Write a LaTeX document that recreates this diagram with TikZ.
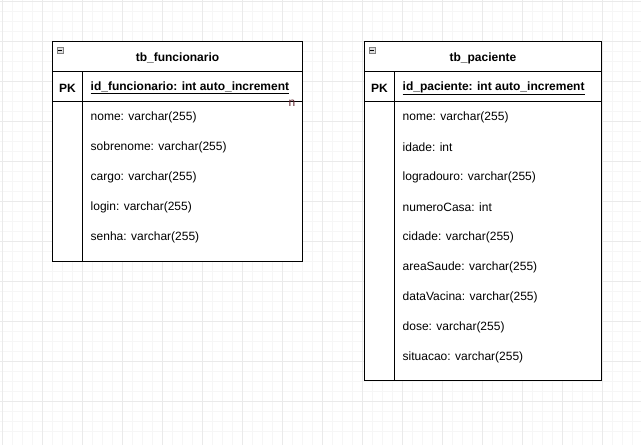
\documentclass[tikz,border=0pt]{standalone}
\usepackage{fontspec}
\setmainfont{Liberation Sans}
\definecolor{minorgrid}{RGB}{246,246,246}
\definecolor{majorgrid}{RGB}{234,234,234}
\definecolor{cardcol}{RGB}{100,40,50}
\begin{document}
\begin{tikzpicture}[x=1pt,y=-1pt,>=latex,
	txt/.style={font=\fontsize{12}{14}\selectfont,inner sep=0pt},
	title/.style={txt,font=\fontsize{12}{14}\selectfont\bfseries},
	field/.style={txt,anchor=west},
	tbline/.style={line width=1pt,black}]
	\useasboundingbox (0,0) rectangle (641,445);
	% background grid
	\foreach \x in {2.5,12.5,...,642} \draw[minorgrid,line width=1pt] (\x,0) -- (\x,445);
	\foreach \y in {1.5,11.5,...,441} \draw[minorgrid,line width=1pt] (0,\y) -- (641,\y);
	\foreach \x in {2.5,42.5,...,642} \draw[majorgrid,line width=1pt] (\x,0) -- (\x,445);
	\foreach \y in {1.5,41.5,...,441} \draw[majorgrid,line width=1pt] (0,\y) -- (641,\y);
	% tb_funcionario
	\draw[tbline,fill=white] (52.5,41.5) rectangle (302.5,261);
	\draw[tbline] (52.5,71.5) -- (302.5,71.5);
	\draw[tbline] (52.5,101.5) -- (302.5,101.5);
	\draw[tbline] (82.5,71.5) -- (82.5,261);
	\draw[gray,fill=gray!25] (57,47) rectangle (63,53);
	\draw[black,line width=0.8pt] (58.3,50) -- (61.7,50);
	\node[title] (funcname) at (177.5,58) {tb\_funcionario};
	\node[title] (funcpk) at (67.5,88) {PK};
	\node[title,anchor=west] (funcid) at (90.5,88) {\underline{id\_funcionario: int auto\_increment}};
	\foreach \f [count=\i] in {nome: varchar(255),sobrenome: varchar(255),cargo: varchar(255),login: varchar(255),senha: varchar(255)}
		\node[field] (func\i) at (90.5,{87.5+30*\i}) {\f};
	\node[txt,text=cardcol] (card) at (292,103) {n};
	% tb_paciente
	\draw[tbline,fill=white] (364.5,41.5) rectangle (601.5,380.5);
	\draw[tbline] (364.5,71.5) -- (601.5,71.5);
	\draw[tbline] (364.5,101.5) -- (601.5,101.5);
	\draw[tbline] (394.5,71.5) -- (394.5,380.5);
	\draw[gray,fill=gray!25] (369,47) rectangle (375,53);
	\draw[black,line width=0.8pt] (370.3,50) -- (373.7,50);
	\node[title] (pacname) at (483,58) {tb\_paciente};
	\node[title] (pacpk) at (379.5,88) {PK};
	\node[title,anchor=west] (pacid) at (402.5,88) {\underline{id\_paciente: int auto\_increment}};
	\foreach \f [count=\i] in {nome: varchar(255),idade: int,logradouro: varchar(255),numeroCasa: int,cidade: varchar(255),areaSaude: varchar(255),dataVacina: varchar(255),dose: varchar(255),situacao: varchar(255)}
		\node[field] (pac\i) at (402.5,{87.5+30*\i}) {\f};
\end{tikzpicture}
\end{document}
